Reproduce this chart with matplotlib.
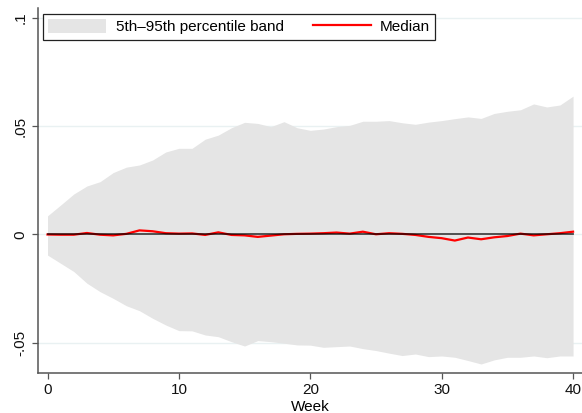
import matplotlib
matplotlib.use("Agg")
import matplotlib.pyplot as plt
import numpy as np

plt.rcParams['font.family'] = ['Liberation Sans', 'DejaVu Sans']

weeks = list(range(0, 41))
upper = [0.0085, 0.0135, 0.0186, 0.0223, 0.0243, 0.0285, 0.0310, 0.0320, 0.0343, 0.0380,
         0.0397, 0.0397, 0.0439, 0.0458, 0.0492, 0.0517, 0.0512, 0.0497, 0.0520, 0.0492,
         0.0480, 0.0486, 0.0497, 0.0503, 0.0522, 0.0522, 0.0525, 0.0515, 0.0508, 0.0518,
         0.0525, 0.0534, 0.0542, 0.0535, 0.0558, 0.0568, 0.0575, 0.0602, 0.0588, 0.0597,
         0.0638]
lower = [-0.0096, -0.0134, -0.0172, -0.0226, -0.0265, -0.0296, -0.0330, -0.0353, -0.0388, -0.0419,
         -0.0445, -0.0446, -0.0465, -0.0473, -0.0496, -0.0516, -0.0491, -0.0496, -0.0503, -0.0511,
         -0.0512, -0.0522, -0.0519, -0.0516, -0.0528, -0.0537, -0.0549, -0.0560, -0.0553, -0.0565,
         -0.0562, -0.0568, -0.0583, -0.0599, -0.0580, -0.0568, -0.0568, -0.0562, -0.0570, -0.0562,
         -0.0562]
median = [-0.0001, -0.0002, -0.0002, 0.0006, -0.0002, -0.0005, 0.0002, 0.0018, 0.0014, 0.0005,
          0.0003, 0.0004, -0.0003, 0.0009, -0.0003, -0.0005, -0.0012, -0.0006, 0.0000, 0.0002,
          0.0003, 0.0005, 0.0008, 0.0003, 0.0012, 0.0000, 0.0005, 0.0002, -0.0003, -0.0012,
          -0.0018, -0.0029, -0.0015, -0.0023, -0.0014, -0.0008, 0.0003, -0.0005, 0.0000, 0.0005,
          0.0012]
yticks = [-0.05, 0, 0.05, 0.1]
ytick_labels = ["-.05", "0", ".05", ".1"]
xticks = [0, 10, 20, 30, 40]

W, H = 582, 413
fig = plt.figure(figsize=(W / 100, H / 100), dpi=100)
ax = fig.add_axes([37.7 / W, 1 - 373.3 / H, (582 - 37.7) / W, (373.3 - 8) / H])

band_color = '#e5e5e5'
ax.fill_between(weeks, lower, upper, color=band_color, linewidth=0, zorder=2,
                label='5th\u201395th percentile band')
ax.plot(weeks, median, color='#ff0000', lw=1.6, zorder=3, label='Median')
ax.plot([weeks[0], weeks[-1]], [0, 0], color='black', lw=1.3, alpha=0.7, zorder=4)

ax.set_xlim(-0.746, 40.68)
ax.set_ylim(-0.0642, 0.1045)
ax.set_yticks(yticks)
ax.set_yticklabels(ytick_labels, rotation=90, va='center')
ax.set_xticks(xticks)
ax.set_xlabel('Week', fontsize=11, labelpad=2)

for t in yticks:
    ax.axhline(t, color='#e9f1f2', lw=1.0, zorder=1)

for s in ['top', 'right']:
    ax.spines[s].set_visible(False)
for s in ['left', 'bottom']:
    ax.spines[s].set_color('#555555')
    ax.spines[s].set_linewidth(1.1)
ax.tick_params(axis='both', direction='out', length=4.3, width=0.9, color='#555555',
               labelsize=11, labelcolor='#111111')
ax.tick_params(axis='y', pad=3)
ax.tick_params(axis='x', pad=3)

leg = fig.legend(loc='upper left', bbox_to_anchor=(43 / W, 1 - 14 / H), ncol=2,
                 fontsize=11, frameon=True, fancybox=False, edgecolor='#222222',
                 framealpha=1, borderaxespad=0, handlelength=3.8, handleheight=1.0,
                 handletextpad=0.6, columnspacing=1.9, borderpad=0.35)
leg.get_frame().set_linewidth(0.9)

fig.savefig('out.png', dpi=100)
